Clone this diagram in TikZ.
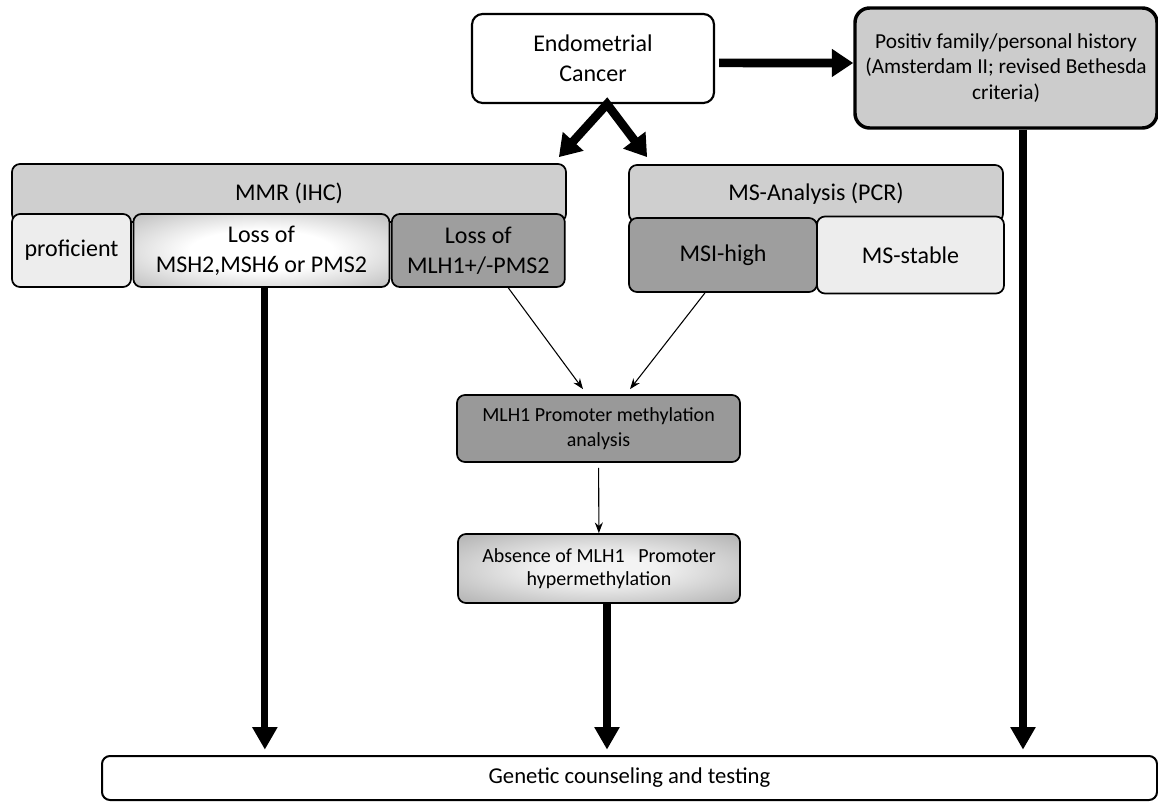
\documentclass[tikz,border=0pt]{standalone}
\usepackage{fontspec}
\setmainfont{Carlito}
\usetikzlibrary{positioning,arrows.meta}

\pgfdeclareradialshading{lossglow}{\pgfpoint{0bp}{0bp}}{color(0bp)=(white); color(14bp)=(white); color(50bp)=(black!42)}
\pgfdeclareradialshading{absenceglow}{\pgfpoint{0bp}{0bp}}{color(0bp)=(black!4); color(10bp)=(black!5); color(50bp)=(black!45)}

\begin{document}
\begin{tikzpicture}[x=0.75pt, y=-0.75pt,
        base_box/.style={draw=black, rounded corners=6pt, line width=1.3pt, align=center, inner sep=0pt, font=\fontsize{18}{22.5}\selectfont},
        start_box/.style={base_box, fill=white, line width=1.6pt, rounded corners=8pt},
        history_box/.style={base_box, fill=black!20, line width=2.6pt, rounded corners=11pt, font=\fontsize{16}{19}\selectfont},
        head_bar/.style={base_box, fill=black!19},
        light_box/.style={base_box, fill=black!7},
        dark_box/.style={base_box, fill=black!38},
        glow_box/.style={base_box, shade, shading=lossglow},
        fat_arrow/.style={line width=5.3pt, -{Triangle[length=17pt, width=18pt]}},
        wide_arrow/.style={line width=6.5pt, -{Triangle[length=16pt, width=20pt]}},
        thin_arrow/.style={line width=0.8pt, -{Stealth[length=8pt, width=6pt]}}
        ]
            \useasboundingbox (0,0) rectangle (1158,802);

            % first row
            \node[start_box, minimum width=181.5pt, minimum height=66.75pt]   (endo)    at (593,58.5)  {Endometrial\\Cancer};
            \node[history_box, minimum width=226.5pt, minimum height=90pt]    (history) at (1006,68)   {Positiv family/personal history\\(Amsterdam II; revised Bethesda\\criteria)};

            % IHC
            \node[head_bar, minimum width=415.5pt, minimum height=43.5pt]     (mmr)        at (289,193)    {MMR (IHC)};
            \node[light_box, minimum width=89.25pt, minimum height=54.75pt]   (proficient) at (71.5,250.5) {proficient};
            \node[glow_box, minimum width=192pt, minimum height=54.75pt]      (loss_msh)   [right = 0.5pt of proficient] {Loss of\\MSH2,MSH6 or PMS2};
            \node[dark_box, minimum width=129.75pt, minimum height=54.75pt]   (loss_mlh)   [right = 0.5pt of loss_msh]   {Loss of\\MLH1+/-PMS2};

            % PCR
            \node[head_bar, minimum width=280.5pt, minimum height=42.75pt]    (msa)        at (816,193.5)  {MS-Analysis (PCR)};
            \node[dark_box, minimum width=141pt, minimum height=55.5pt]       (msi_high)   at (723,255)    {MSI-high};
            \node[light_box, minimum width=140.25pt, minimum height=57.75pt]  (ms_stable)  [right = -1.3pt of msi_high] {MS-stable};

            % methylation
            \node[dark_box, fill=black!40, minimum width=212.25pt, minimum height=50.25pt, font=\fontsize{15}{18.75}\selectfont] (methyl)  at (598.5,428.5) {MLH1 Promoter methylation\\analysis};
            \node[base_box, shade, shading=absenceglow, minimum width=211.5pt, minimum height=51.75pt, font=\fontsize{15}{17.25}\selectfont] (absence) at (599,568.5) {Absence of MLH1\ \ \ Promoter\\hypermethylation};

            % outcome
            \node[base_box, fill=white, line width=1.5pt, minimum width=791.25pt, minimum height=33pt, font=\fontsize{17}{20}\selectfont] (genetic) at (629.5,778) {Genetic counseling and testing};

            % Lines
            \draw[wide_arrow, shorten <=3pt] ([yshift=-3.3pt]endo.east) -- ([yshift=3.75pt]history.west);
            \draw[wide_arrow, {Triangle[length=16pt, width=20pt]}-{Triangle[length=16pt, width=20pt]}]
                ([shift={(-8,-6)}]mmr.north east) -- ([xshift=10.5pt]endo.south) -- ([shift={(19,-7)}]msa.north west);
            \draw[thin_arrow] ([xshift=22.5pt]loss_mlh.south) -- ([shift={(-15.5,-5)}]methyl.north);
            \draw[thin_arrow] ([xshift=-13.5pt]msi_high.south) -- ([shift={(31.5,-5)}]methyl.north);
            \draw[thin_arrow, shorten <=3.75pt] (methyl) -- (absence);
            % to counseling
            \draw[fat_arrow, shorten >=4pt] ([xshift=2.6pt]loss_msh.south) -- ([xshift=2.6pt]loss_msh.south |- genetic.north);
            \draw[fat_arrow, shorten >=4pt] ([xshift=6pt]absence.south) -- ([xshift=6pt]absence.south |- genetic.north);
            \draw[fat_arrow, shorten >=4pt] ([xshift=12.75pt]history.south) -- ([xshift=12.75pt]history.south |- genetic.north);
        \end{tikzpicture}
\end{document}
